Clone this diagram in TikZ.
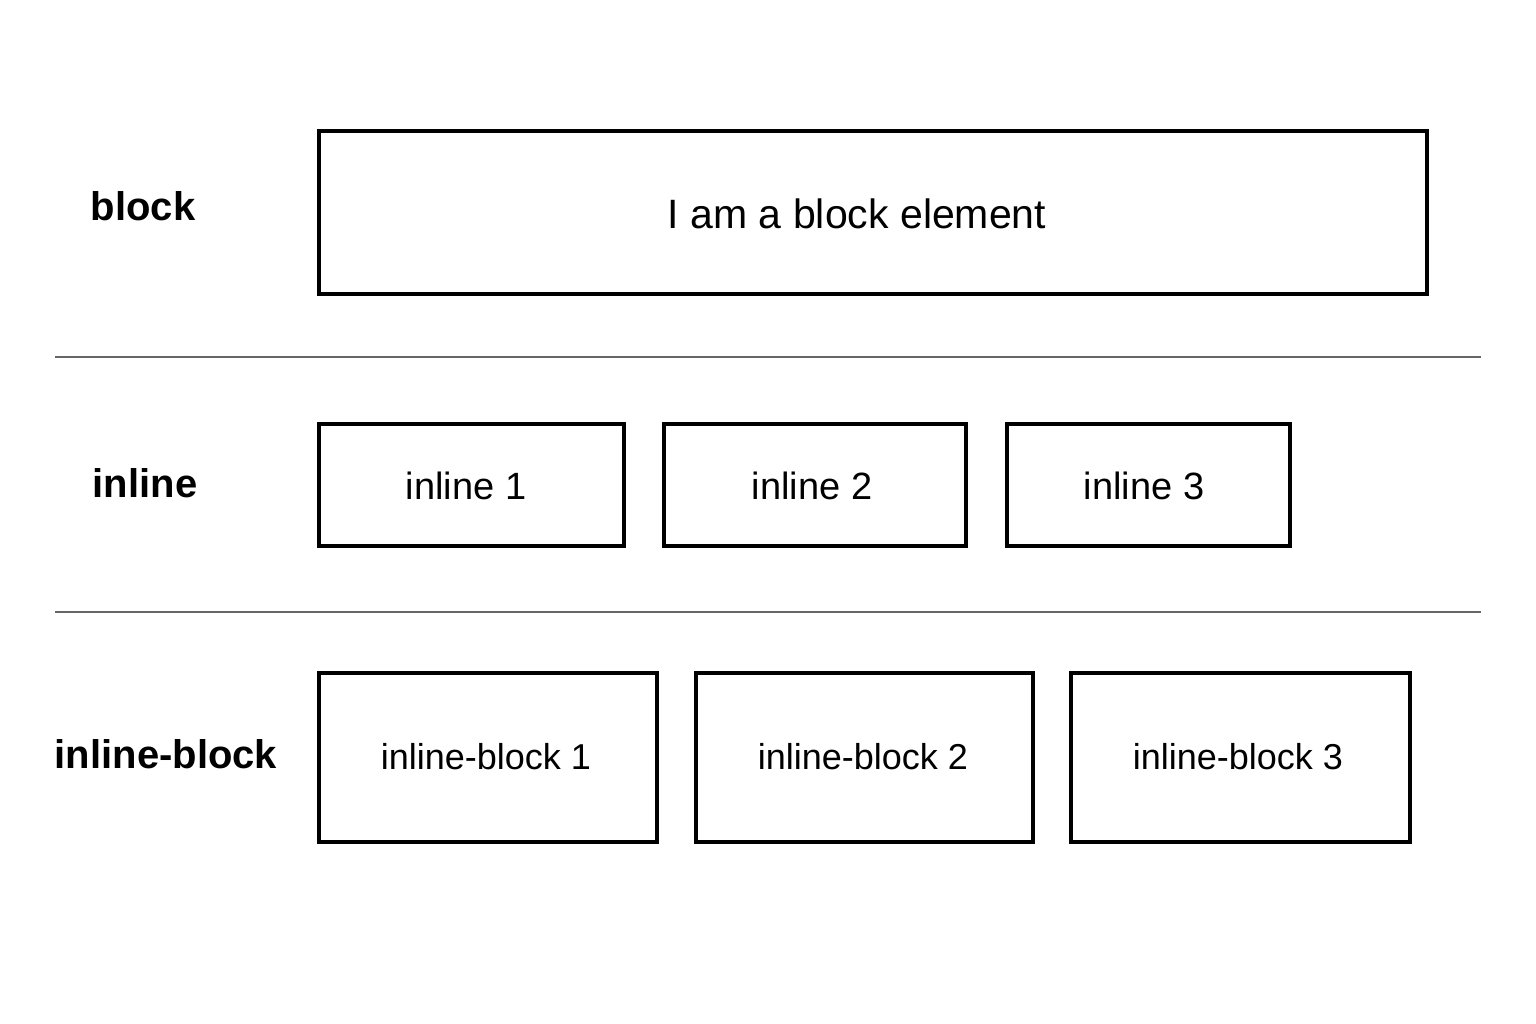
\documentclass[tikz,border=0pt]{standalone}
\usepackage{fontspec}
\setmainfont{Liberation Sans}
\begin{document}
\begin{tikzpicture}[x=1pt,y=-1pt,
  elbox/.style={draw=black,line width=3.2pt,inner sep=0pt},
  sep/.style={draw=black!60,line width=1.3pt},
  lbl/.style={font=\fontsize{40}{48}\selectfont\bfseries,anchor=center},
  t42/.style={font=\fontsize{41}{49}\selectfont},
  t38/.style={font=\fontsize{38}{46}\selectfont},
  t36/.style={font=\fontsize{36}{44}\selectfont}]
\useasboundingbox (0,0) rectangle (1536,1024);
\fill[white] (0,0) rectangle (1536,1024);
% block row
\draw[elbox] (319,131) rectangle (1427,294);
\node[t42] (bt) at (857,214) {I am a block element};
\node[lbl] (lb) at (143,206) {block};
% separators
\coordinate (s1a) at (55,357); \coordinate (s1b) at (1481,357);
\coordinate (s2a) at (55,612); \coordinate (s2b) at (1481,612);
\draw[sep] (s1a) -- (s1b);
\draw[sep] (s2a) -- (s2b);
% inline row
\node[lbl] (li) at (145,483) {inline};
\draw[elbox] (319,424) rectangle (624,546);
\draw[elbox] (664,424) rectangle (966,546);
\draw[elbox] (1007,424) rectangle (1290,546);
\node[t38] (i1) at (466,486) {inline 1};
\node[t38] (i2) at (812,486) {inline 2};
\node[t38] (i3) at (1144,486) {inline 3};
% inline-block row
\node[lbl] (lib) at (166,754) {inline-block};
\draw[elbox] (319,673) rectangle (657,842);
\draw[elbox] (696,673) rectangle (1033,842);
\draw[elbox] (1071,673) rectangle (1410,842);
\node[t36] (ib1) at (486,757) {inline-block 1};
\node[t36] (ib2) at (863,757) {inline-block 2};
\node[t36] (ib3) at (1238,757) {inline-block 3};
\end{tikzpicture}
\end{document}
